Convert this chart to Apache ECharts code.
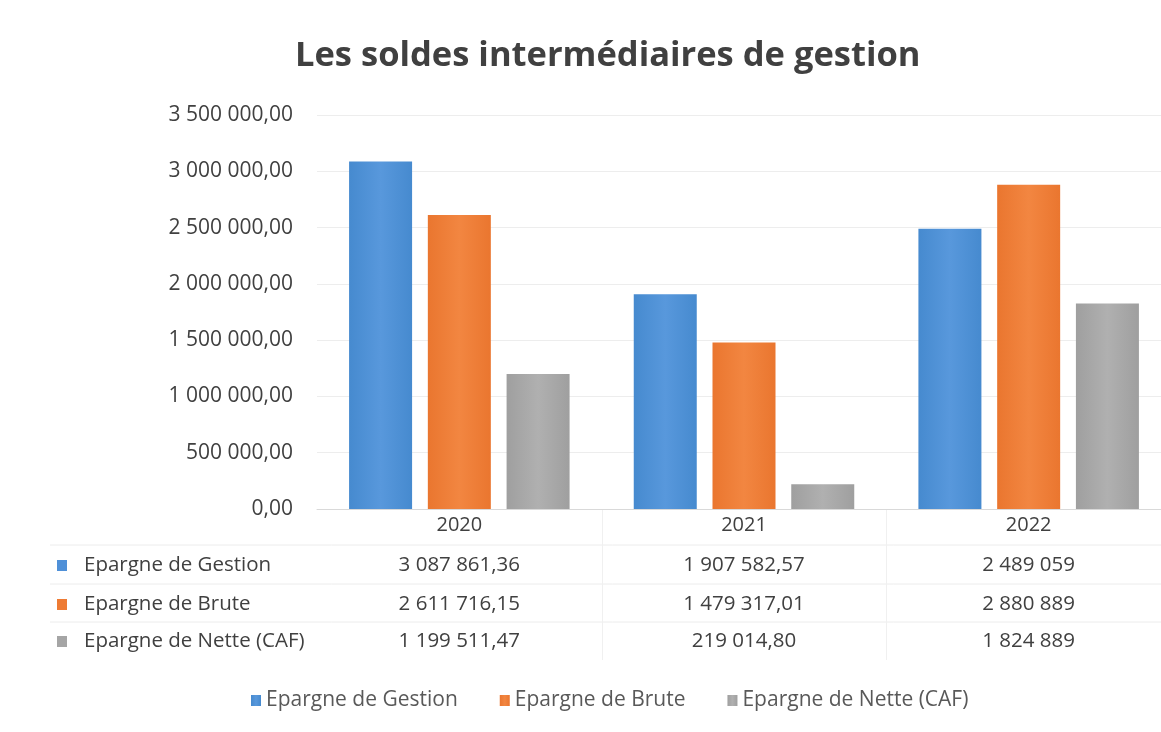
<!DOCTYPE html>
<html>
<head>
<meta charset="utf-8">
<title>Les soldes intermédiaires de gestion</title>
<script src="https://cdn.jsdelivr.net/npm/echarts@6/dist/echarts.min.js"></script>
<style>
  html, body { margin: 0; padding: 0; background: #fff; overflow: hidden; }
  #main { width: 1175px; height: 732px; }
</style>
</head>
<body>
<div id="main"></div>
<script type="text/javascript">
// données
var years = ['2020', '2021', '2022'];
var seriesNames = ['Epargne de Gestion', 'Epargne de Brute', 'Epargne de Nette (CAF)'];
var gestion = [3087861.36, 1907582.57, 2489059];
var brute = [2611716.15, 1479317.01, 2880889];
var nette = [1199511.47, 219014.80, 1824889];
var yTicks = [0, 500000, 1000000, 1500000, 2000000, 2500000, 3000000, 3500000];

var allValues = [gestion, brute, nette];
var baseColors = ['#4f90d8', '#ee7b34', '#a5a5a5'];
var grads = [
  ['#468acf', '#5898dc', '#468acf'],
  ['#ea762f', '#f28641', '#ea762f'],
  ['#9f9f9f', '#b0b0b0', '#9f9f9f']
];
var font = '"Open Sans", "DejaVu Sans", sans-serif';

// format français : 3 500 000,00
function frNum(v, dec) {
  var s = v.toFixed(dec);
  var parts = s.split('.');
  var ent = parts[0].replace(/\B(?=(\d{3})+(?!\d))/g, ' ');
  return parts.length > 1 ? ent + ',' + parts[1] : ent;
}
function cellText(v) {
  return Math.round(v) === v ? frNum(v, 0) : frNum(v, 2);
}

var myChart = echarts.init(document.getElementById('main'));

var series = [];
for (var i = 0; i < seriesNames.length; i++) {
  series.push({
    name: seriesNames[i],
    type: 'bar',
    barWidth: 63,
    barGap: '25%',
    data: allValues[i],
    itemStyle: {
      color: new echarts.graphic.LinearGradient(0, 0, 1, 0, [
        { offset: 0, color: grads[i][0] },
        { offset: 0.5, color: grads[i][1] },
        { offset: 1, color: grads[i][2] }
      ])
    }
  });
}

var option = {
  backgroundColor: '#fff',
  animation: false,
  color: baseColors,
  title: {
    text: 'Les soldes intermédiaires de gestion',
    left: 290,
    top: 34,
    textStyle: { fontFamily: font, fontSize: 34.5, fontWeight: 'bold', color: '#404040' }
  },
  legend: {
    data: seriesNames,
    top: 685,
    left: 246,
    icon: 'rect',
    itemWidth: 10,
    itemHeight: 11,
    itemGap: 42,
    textStyle: { fontFamily: font, fontSize: 21, color: '#595959' }
  },
  grid: { left: 317, top: 115, width: 854, bottom: 223, containLabel: false },
  xAxis: {
    type: 'category',
    data: years,
    axisLine: { lineStyle: { color: '#d9d9d9' } },
    axisTick: { show: false },
    axisLabel: { fontFamily: font, fontSize: 20, color: '#404040', margin: 6 }
  },
  yAxis: {
    type: 'value',
    min: yTicks[0],
    max: yTicks[yTicks.length - 1],
    interval: yTicks[1] - yTicks[0],
    axisLine: { show: false },
    axisTick: { show: false },
    splitLine: { lineStyle: { color: '#ededed' } },
    axisLabel: {
      fontFamily: font, fontSize: 21, color: '#404040', margin: 24,
      formatter: function (v) { return frNum(v, 2); }
    }
  },
  series: series
};
myChart.setOption(option);

// tableau de données sous le graphique
var rowY = [565, 604, 641];
var lineY = [545, 584, 622];
var g = [];
for (var r = 0; r < lineY.length; r++) {
  g.push({
    type: 'line', silent: true,
    shape: { x1: 50, y1: lineY[r], x2: 1175, y2: lineY[r] },
    style: { stroke: '#ececec', lineWidth: 1 }
  });
}
for (var b = 0; b < years.length - 1; b++) {
  var x0 = myChart.convertToPixel({ xAxisIndex: 0 }, years[b]);
  var x1 = myChart.convertToPixel({ xAxisIndex: 0 }, years[b + 1]);
  var xm = Math.round((x0 + x1) / 2) + 0.5;
  g.push({
    type: 'line', silent: true,
    shape: { x1: xm, y1: 509, x2: xm, y2: 660 },
    style: { stroke: '#f0f0f0', lineWidth: 1 }
  });
}
for (var s = 0; s < seriesNames.length; s++) {
  g.push({
    type: 'rect', silent: true,
    shape: { x: 57, y: rowY[s] - 5, width: 10, height: 11 },
    style: { fill: baseColors[s] }
  });
  g.push({
    type: 'text', silent: true,
    x: 84, y: rowY[s],
    style: {
      text: seriesNames[s], fontFamily: font, fontSize: 20.5, fill: '#404040',
      textAlign: 'left', textVerticalAlign: 'middle'
    }
  });
  for (var c = 0; c < years.length; c++) {
    var cx = myChart.convertToPixel({ xAxisIndex: 0 }, years[c]);
    g.push({
      type: 'text', silent: true,
      x: cx, y: rowY[s],
      style: {
        text: cellText(allValues[s][c]), fontFamily: font, fontSize: 20.5, fill: '#404040',
        textAlign: 'center', textVerticalAlign: 'middle'
      }
    });
  }
}
myChart.setOption({ graphic: g });
</script>
</body>
</html>
